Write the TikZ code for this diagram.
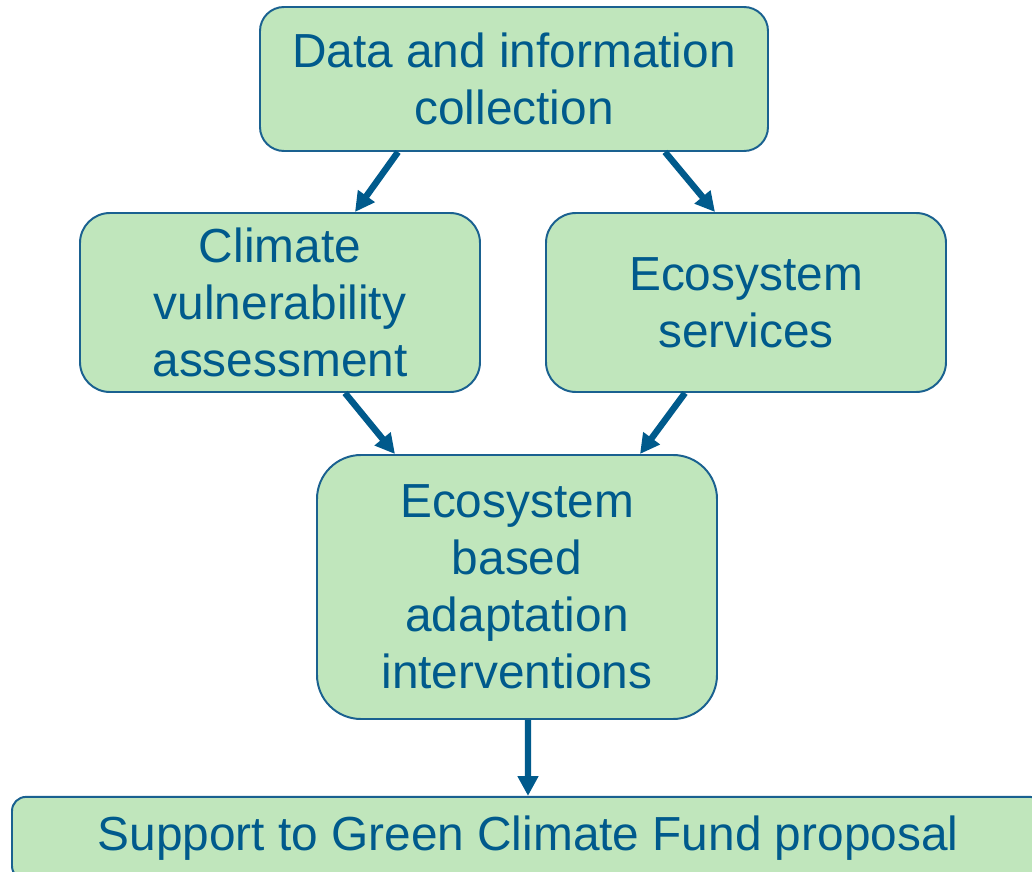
\documentclass[tikz,border=0pt]{standalone}
\usepackage{fontspec}
\setmainfont{Liberation Sans}
\usetikzlibrary{arrows.meta}

\definecolor{boxfill}{HTML}{C0E6BC}
\definecolor{boxline}{HTML}{1A6190}
\definecolor{ink}{HTML}{005A8C}

\begin{document}
\begin{tikzpicture}[
    stage/.style={draw=boxline,line width=1.4pt,fill=boxfill,text=ink,
        align=center,inner sep=0pt,
        font=\fontsize{34}{40.5}\selectfont},
    flow/.style={-{Triangle[length=14pt,width=14pt]},draw=ink,line width=4.6pt}
]
\useasboundingbox (0,0) rectangle (25.8,-21.8);

\node [stage,rounded corners=0.6cm,minimum width=12.7cm,minimum height=3.6cm]
    (data)     at (12.85,-1.975)   {Data and information\\ collection};
\node [stage,rounded corners=0.75cm,minimum width=10cm,minimum height=4.475cm]
    (vuln)     at ( 7.0,-7.5625)   {Climate\\ vulnerability\\ assessment};
\node [stage,rounded corners=0.75cm,minimum width=10cm,minimum height=4.475cm]
    (services) at (18.65,-7.5625)  {Ecosystem\\ services};
\node [stage,rounded corners=1.1cm,minimum width=10cm,minimum height=6.6cm]
    (eba)      at (12.925,-14.675) {Ecosystem\\ based\\ adaptation\\ interventions};
\node [stage,rounded corners=0.35cm,minimum width=25.8cm,minimum height=2.075cm]
    (gcf)      at (13.2,-20.96)    {Support to Green Climate Fund proposal};

\draw [flow] ([xshift=-2.9cm]data.south)    -- ([xshift=1.875cm]vuln.north);
\draw [flow] ([xshift=3.775cm]data.south)   -- ([xshift=-0.775cm]services.north);
\draw [flow] ([xshift=1.625cm]vuln.south)   -- ([xshift=-3.05cm]eba.north);
\draw [flow] ([xshift=-1.525cm]services.south) -- ([xshift=3.075cm]eba.north);
\draw [flow] ([xshift=0.275cm]eba.south)    -- (gcf.north);
\end{tikzpicture}
\end{document}
